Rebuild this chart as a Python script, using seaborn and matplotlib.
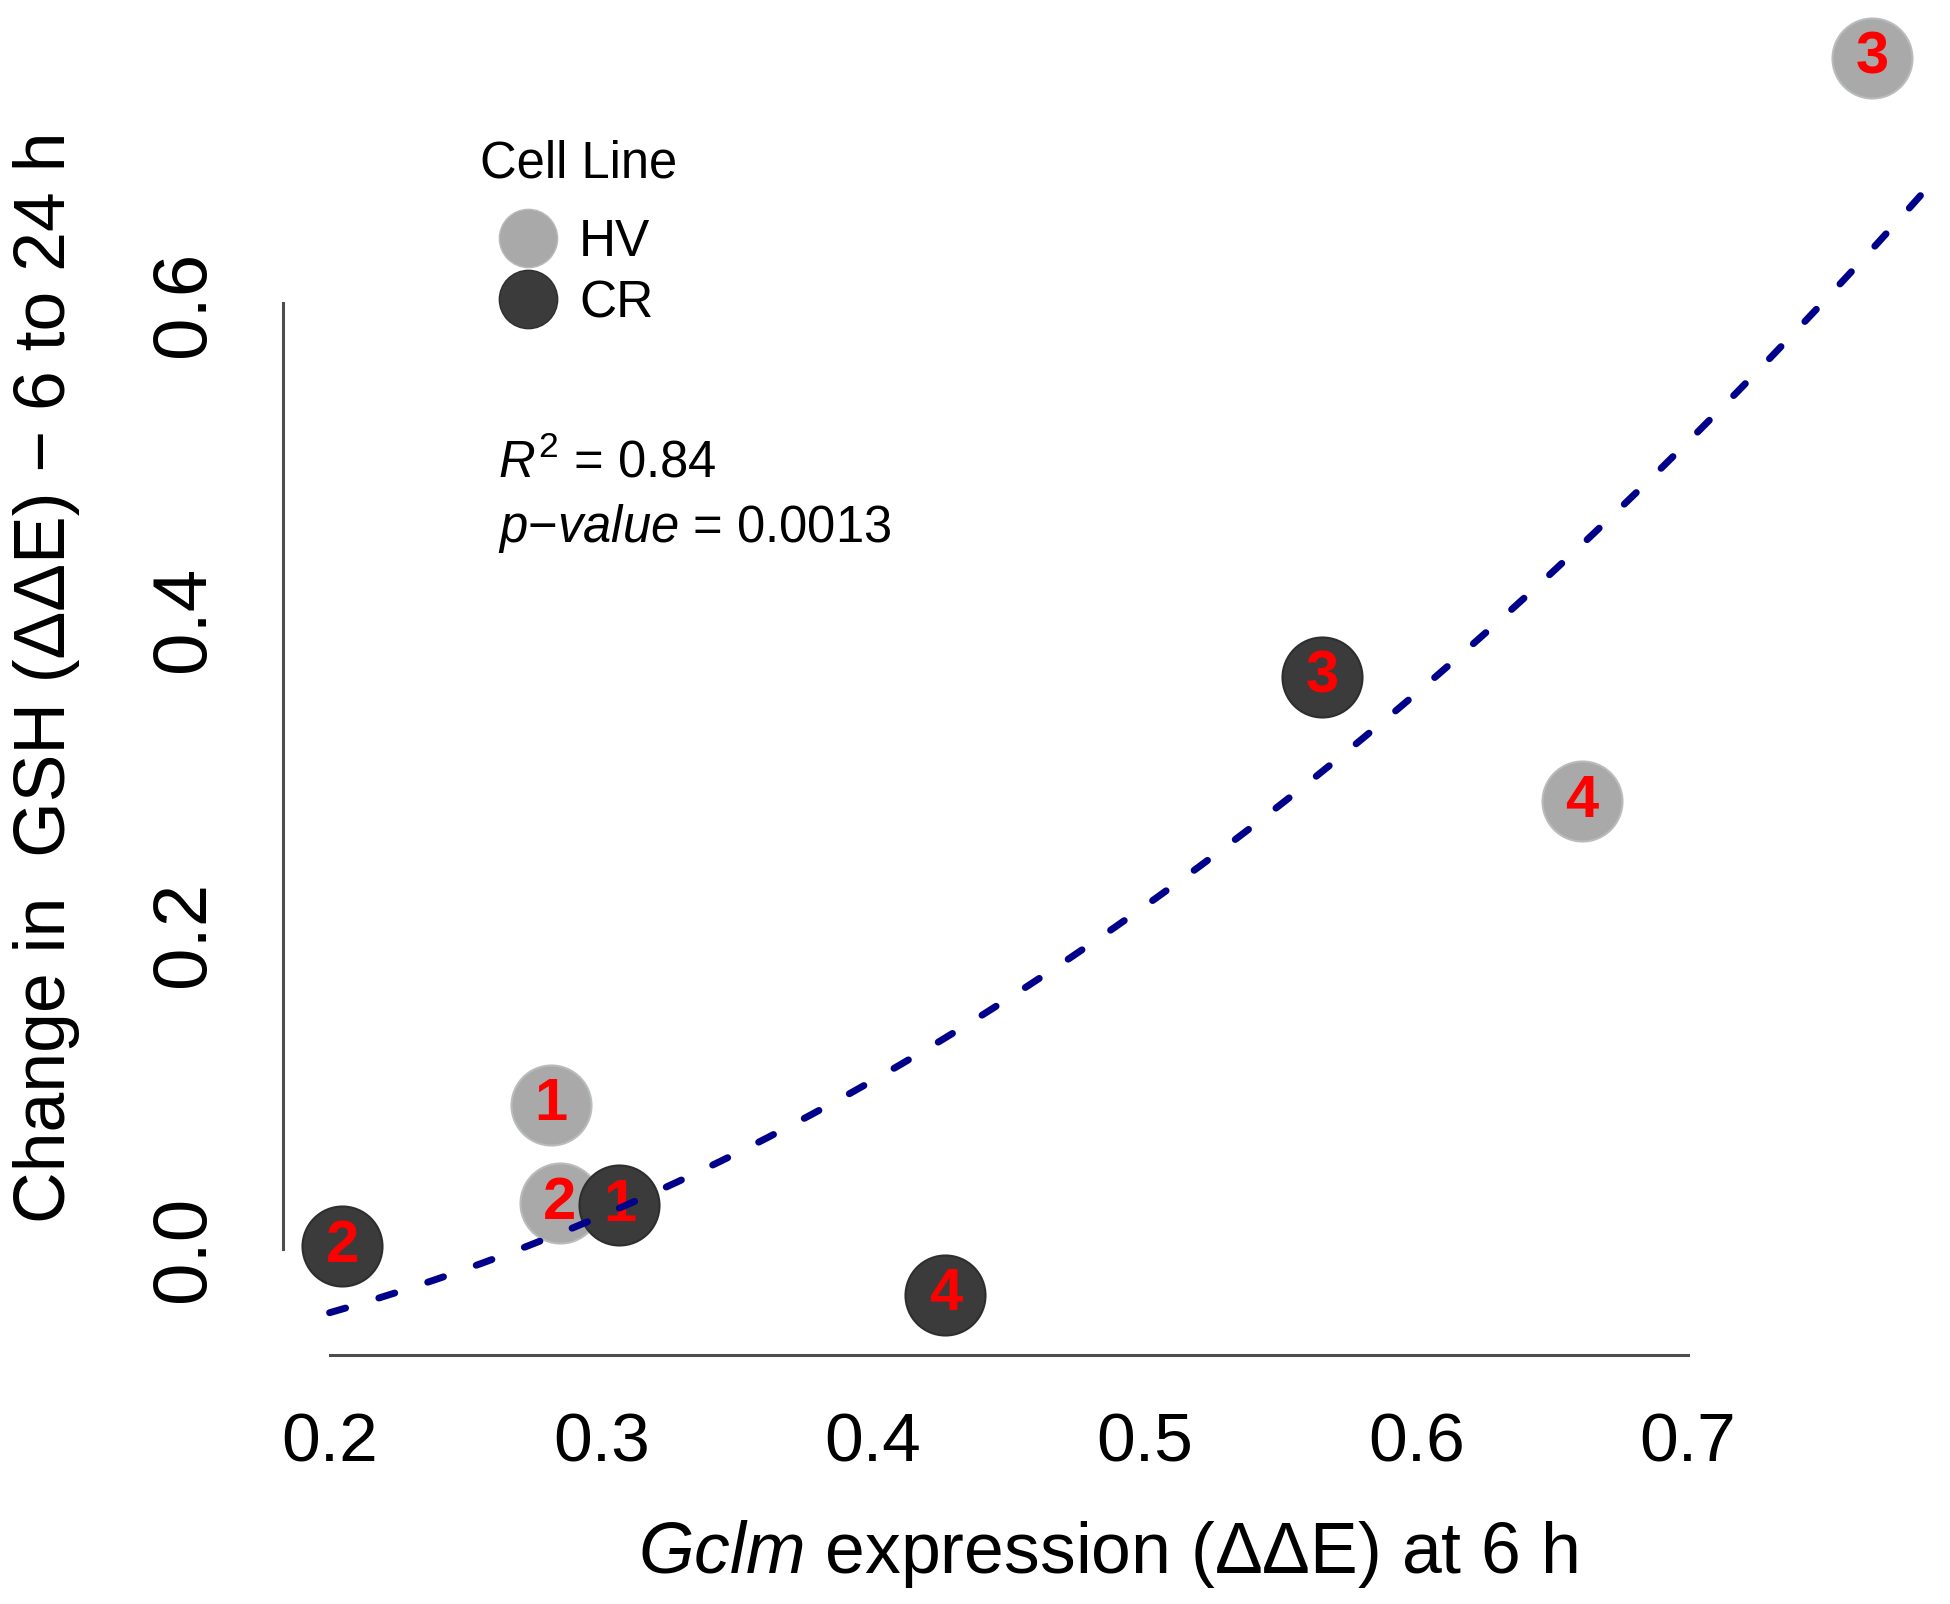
import numpy as np
import pandas as pd
import matplotlib
matplotlib.use('Agg')
import matplotlib.pyplot as plt
from matplotlib.lines import Line2D
import seaborn as sns

# values
cell_line = ['HV', 'HV', 'HV', 'HV', 'CR', 'CR', 'CR', 'CR']
sample = ['1', '2', '3', '4', '1', '2', '3', '4']
gclm_6h = [0.2815, 0.2847, 0.7678, 0.661, 0.3067, 0.2046, 0.5654, 0.4267]
gsh_change = [0.0916, 0.029, 0.756, 0.284, 0.0276, 0.0016, 0.363, -0.029]

x_ticks = [0.2, 0.3, 0.4, 0.5, 0.6, 0.7]
y_ticks = [0.0, 0.2, 0.4, 0.6]

colors = {'HV': '#a9a9a9', 'CR': '#3b3b3b'}
edges = {'HV': '#b8bcbc', 'CR': '#2e2e2e'}

df = pd.DataFrame({'line': cell_line, 'sample': sample,
                   'x': gclm_6h, 'y': gsh_change})

sns.set_style('white')
plt.rcParams['font.family'] = ['Liberation Sans', 'DejaVu Sans']
plt.rcParams['mathtext.fontset'] = 'custom'
plt.rcParams['mathtext.rm'] = 'Liberation Sans'
plt.rcParams['mathtext.it'] = 'Liberation Sans:italic'
for k in ['text.color', 'axes.labelcolor', 'xtick.labelcolor', 'ytick.labelcolor']:
    plt.rcParams[k] = 'black'

W, H = 1950, 1604
fig = plt.figure(figsize=(W / 100, H / 100), dpi=100)
ax = fig.add_axes([283 / W, 1 - 1355 / H, (1932 - 283) / W, 1355 / H])

# points: HV first, CR on top
for grp in ['HV', 'CR']:
    sub = df[df['line'] == grp]
    sns.scatterplot(data=sub, x='x', y='y', color=colors[grp], s=3318,
                    edgecolor=edges[grp], linewidth=1.5, ax=ax,
                    legend=False, clip_on=False, zorder=3)
for _, r in df.iterrows():
    ax.text(r['x'], r['y'], r['sample'], color='#ff0000', fontsize=43,
            fontweight='bold', ha='center', va='center', zorder=4)

# fit y ~ x^2 (linear model on the squared predictor)
coef = np.polyfit(df['x'] ** 2, df['y'], 1)
xs = np.linspace(0.2, 0.80, 300)
ax.plot(xs, np.polyval(coef, xs ** 2), color='#00008b', lw=5,
        linestyle=(0, (2.4, 5.0)), dash_capstyle='round', zorder=5)

ax.set_xlim(0.18285, 0.7899)
ax.set_ylim(-0.0673, 0.7926)
ax.set_xticks(x_ticks)
ax.set_xticklabels([f'{t:.1f}' for t in x_ticks])
ax.set_yticks(y_ticks)
ax.set_yticklabels([f'{t:.1f}' for t in y_ticks])

for s in ['top', 'right']:
    ax.spines[s].set_visible(False)
ax.spines['left'].set_bounds(0.0, 0.6)
ax.spines['bottom'].set_bounds(0.2, 0.7)
for s in ['left', 'bottom']:
    ax.spines[s].set_color('#4d4d4d')
    ax.spines[s].set_linewidth(2.2)
ax.tick_params(axis='both', direction='out', length=23, width=1.2,
               color='#333333')
ax.tick_params(axis='x', pad=18, labelsize=50)
ax.tick_params(axis='y', pad=22, labelsize=55, labelrotation=90)
for lab in ax.get_yticklabels():
    lab.set_va('center')

ax.set_xlabel(r'$\mathit{Gclm}$ expression (ΔΔE) at 6 h', fontsize=51.5)
ax.set_ylabel('Change in  GSH (ΔΔE) − 6 to 24 h', fontsize=51.5)
ax.xaxis.set_label_coords(0.5, -0.1203)
ax.yaxis.set_label_coords(-0.1234, 0.5)

# legend
handles = [Line2D([], [], ls='none', marker='o', markersize=42,
                  markerfacecolor=colors[g], markeredgecolor=edges[g])
           for g in ['HV', 'CR']]
ax.legend(handles, ['HV', 'CR'], loc='center left',
          bbox_to_anchor=(480 / W, 1 - 273 / H), bbox_transform=fig.transFigure,
          frameon=False, fontsize=37, borderpad=0, handlelength=1.88,
          handletextpad=0.05, labelspacing=0.25, borderaxespad=0)
fig.text(480 / W, 1 - 177 / H, 'Cell Line', fontsize=36.5, va='baseline')

fig.text(498 / W, 1 - 477 / H, r'$\mathit{R}^2$ = 0.84', fontsize=36.5, va='baseline')
fig.text(498 / W, 1 - 542 / H, r'$\mathit{p}$−$\mathit{value}$ = 0.0013',
         fontsize=36.5, va='baseline')

fig.savefig('out.png', dpi=100)
